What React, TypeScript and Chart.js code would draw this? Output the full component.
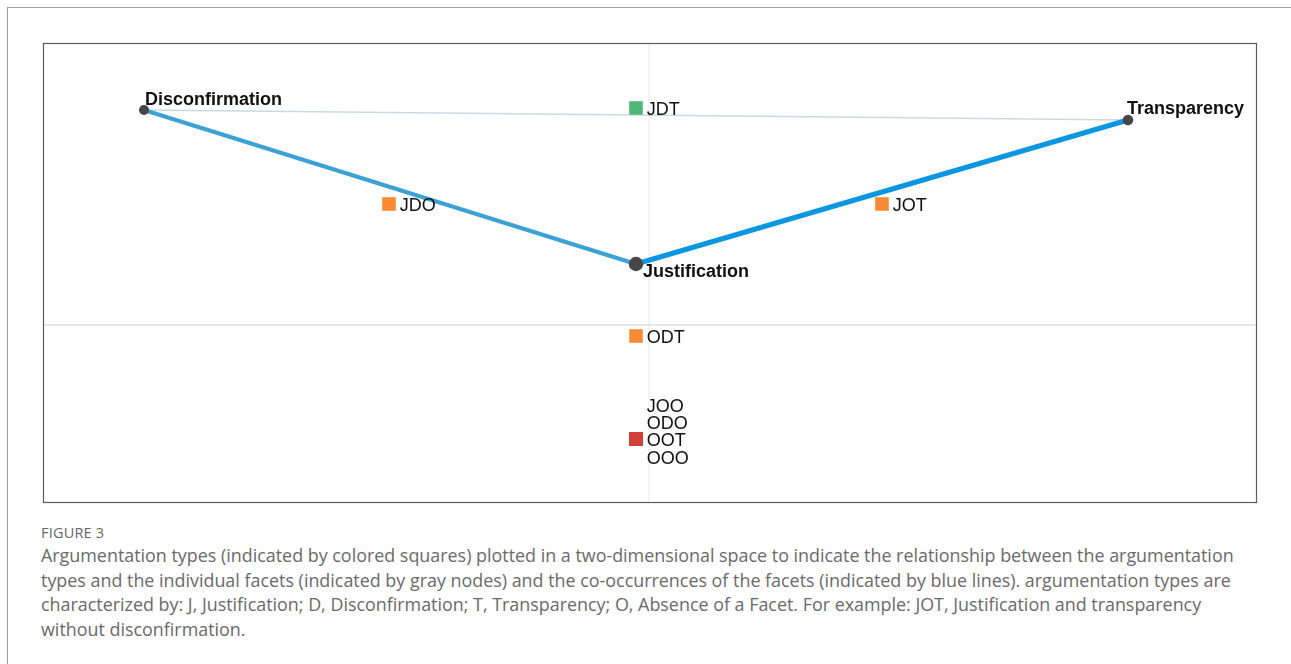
import React, { useEffect, useRef } from "react";
import { Chart, registerables } from "chart.js";

Chart.register(...registerables);

// ---- Data ----
const facetNames = ["Disconfirmation", "Justification", "Transparency"];
const facetX = [-5.05, -0.13, 4.79];
const facetY = [2.15, 0.61, 2.05];

const typeNames = ["JOO", "ODO", "OOO", "OOT", "JDT", "JDO", "JOT", "ODT"];
const typeX = [-0.13, -0.13, -0.13, -0.13, -0.13, -2.6, 2.33, -0.13];
const typeY = [-1.14, -1.14, -1.14, -1.14, 2.17, 1.21, 1.21, -0.11];

// co-occurrence links between facets (indices into facetNames)
const linkFrom = [0, 1, 0];
const linkTo = [1, 2, 2];

const captionTitle = "FIGURE 3";
const captionLines = [
  "Argumentation types (indicated by colored squares) plotted in a two-dimensional space to indicate the relationship between the argumentation",
  "types and the individual facets (indicated by gray nodes) and the co-occurrences of the facets (indicated by blue lines). argumentation types are",
  "characterized by: J, Justification; D, Disconfirmation; T, Transparency; O, Absence of a Facet. For example: JOT, Justification and transparency",
  "without disconfirmation.",
];

// ---- Styles ----
const X_MIN = -6.06, X_MAX = 6.08, Y_MIN = -1.78, Y_MAX = 2.82;
const facetRadius = [5, 7.2, 5.3];
const facetLabelOffset = [[1, -5], [7, 13], [-1, -6]];
const typeColors = ["#d2403a", "#d2403a", "#d2403a", "#d2403a", "#4db877", "#f78a33", "#f78a33", "#f78a33"];
const typeLabelDy = [-34, -17, 18, 0, 0, 0, 0, 0];
const linkColors = ["#3ca2d6", "#0b96e0", "#c9dae2"];
const linkWidths = [4, 5, 1.6];

export default function App() {
  const canvasRef = useRef<HTMLCanvasElement>(null);

  useEffect(() => {
    document.body.style.margin = "0";
    const canvas = canvasRef.current;
    if (!canvas) return;

    const datasets: any[] = [];
    // crosshair
    datasets.push({
      type: "line",
      data: [{ x: 0, y: Y_MIN }, { x: 0, y: Y_MAX }],
      borderColor: "#e8e8e8",
      borderWidth: 1,
      pointRadius: 0,
      order: 10,
    });
    datasets.push({
      type: "line",
      data: [{ x: X_MIN, y: 0 }, { x: X_MAX, y: 0 }],
      borderColor: "#cdcdcd",
      borderWidth: 1,
      pointRadius: 0,
      order: 9,
    });
    // links
    linkFrom.forEach((f, i) => {
      const t = linkTo[i];
      datasets.push({
        type: "line",
        data: [{ x: facetX[f], y: facetY[f] }, { x: facetX[t], y: facetY[t] }],
        borderColor: linkColors[i],
        borderWidth: linkWidths[i],
        pointRadius: 0,
        order: 5 + (i === 2 ? 2 : 0),
      });
    });
    // argumentation types (squares)
    datasets.push({
      type: "scatter",
      data: typeNames.map((_, i) => ({ x: typeX[i], y: typeY[i] })),
      pointStyle: "rect",
      pointRadius: 9.6,
      pointBackgroundColor: typeColors,
      pointBorderWidth: 0,
      borderWidth: 0,
      order: 2,
    });
    // facets (nodes)
    datasets.push({
      type: "scatter",
      data: facetNames.map((_, i) => ({ x: facetX[i], y: facetY[i] })),
      pointStyle: "circle",
      pointRadius: facetRadius,
      pointBackgroundColor: "#474747",
      pointBorderWidth: 0,
      borderWidth: 0,
      order: 1,
    });

    const framePlugin = {
      id: "frame",
      afterDraw(chart: any) {
        const { ctx, chartArea } = chart;
        ctx.save();
        ctx.strokeStyle = "#5a5a5a";
        ctx.lineWidth = 1.2;
        ctx.strokeRect(chartArea.left + 0.5, chartArea.top + 0.5, chartArea.right - chartArea.left - 1, chartArea.bottom - chartArea.top - 1);
        ctx.restore();
      },
    };

    const labelPlugin = {
      id: "labels",
      afterDatasetsDraw(chart: any) {
        const { ctx, scales } = chart;
        const xs = scales.x, ys = scales.y;
        ctx.save();
        ctx.fillStyle = "#111";
        ctx.textBaseline = "alphabetic";
        ctx.textAlign = "left";
        ctx.font = "18px 'Liberation Sans', Arial, sans-serif";
        typeNames.forEach((n, i) => {
          const px = xs.getPixelForValue(typeX[i]);
          const py = ys.getPixelForValue(typeY[i]);
          ctx.fillText(n, px + 10.7, py + 6.5 + typeLabelDy[i]);
        });
        ctx.font = "bold 18px 'Liberation Sans', Arial, sans-serif";
        facetNames.forEach((n, i) => {
          const px = xs.getPixelForValue(facetX[i]);
          const py = ys.getPixelForValue(facetY[i]);
          ctx.fillText(n, px + facetLabelOffset[i][0], py + facetLabelOffset[i][1]);
        });
        ctx.restore();
      },
    };

    const chart = new Chart(canvas, {
      type: "scatter",
      data: { datasets },
      options: {
        animation: false,
        responsive: true,
        maintainAspectRatio: false,
        events: [],
        layout: { padding: { left: 43, top: 43, right: 34, bottom: 17 } },
        plugins: { legend: { display: false }, tooltip: { enabled: false } },
        scales: {
          x: { type: "linear", min: X_MIN, max: X_MAX, display: false },
          y: { type: "linear", min: Y_MIN, max: Y_MAX, display: false },
        },
      },
      plugins: [framePlugin, labelPlugin],
    } as any);

    return () => chart.destroy();
  }, []);

  return (
    <div style={{ position: "relative", width: 1291, height: 664, overflow: "hidden", background: "#fff" }}>
      <div
        style={{
          position: "absolute",
          left: 7,
          top: 7,
          right: -10,
          bottom: -10,
          borderTop: "1px solid #a0a0a0",
          borderLeft: "1px solid #a0a0a0",
        }}
      />
      <div style={{ position: "absolute", left: 0, top: 0, width: 1291, height: 520 }}>
        <canvas ref={canvasRef} />
      </div>
      <div
        style={{
          position: "absolute",
          left: 41,
          top: 523,
          fontFamily: "'Open Sans', sans-serif",
          fontSize: 14.5,
          fontWeight: 500,
          color: "#666",
          letterSpacing: 0.2,
        }}
      >
        {captionTitle}
      </div>
      <div
        style={{
          position: "absolute",
          left: 41,
          top: 543,
          fontFamily: "'Open Sans', sans-serif",
          fontSize: 17.9,
          lineHeight: "24.5px",
          color: "#6a6a6a",
          whiteSpace: "nowrap",
        }}
      >
        {captionLines.map((l, i) => (
          <div key={i}>{l}</div>
        ))}
      </div>
    </div>
  );
}
